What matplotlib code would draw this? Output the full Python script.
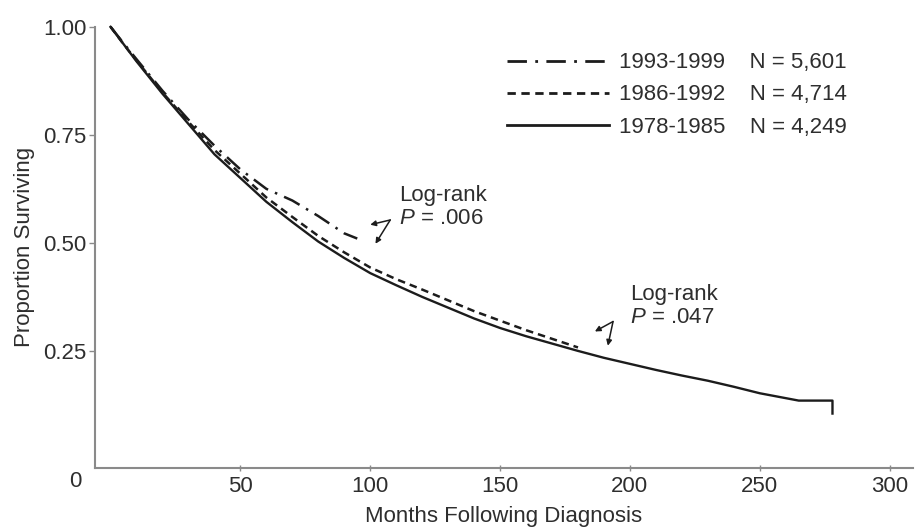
import matplotlib
matplotlib.use('Agg')
import matplotlib.pyplot as plt

plt.rcParams['font.family'] = ['Liberation Sans', 'DejaVu Sans']
plt.rcParams['mathtext.fontset'] = 'custom'
plt.rcParams['mathtext.rm'] = 'Liberation Sans'
plt.rcParams['mathtext.it'] = 'Liberation Sans:italic'

# Kaplan-Meier estimates (months, proportion surviving)
months_78 = [0, 5, 10, 20, 30, 40, 50, 60, 70, 80, 90, 100, 110, 120, 130,
             140, 150, 160, 170, 180, 190, 200, 210, 220, 230, 240, 250,
             265, 278, 278]
surv_78 = [1.0, 0.96, 0.92, 0.845, 0.775, 0.705, 0.65, 0.595, 0.548, 0.503,
           0.465, 0.43, 0.402, 0.375, 0.35, 0.325, 0.303, 0.284, 0.267,
           0.25, 0.234, 0.22, 0.206, 0.193, 0.181, 0.167, 0.152, 0.135,
           0.135, 0.105]

months_86 = [0, 5, 10, 20, 30, 40, 50, 60, 70, 80, 90, 100, 110, 120, 130,
             140, 150, 160, 170, 180]
surv_86 = [1.0, 0.96, 0.922, 0.848, 0.78, 0.715, 0.66, 0.605, 0.56, 0.516,
           0.478, 0.443, 0.416, 0.392, 0.367, 0.342, 0.32, 0.298, 0.278, 0.258]

months_93 = [0, 5, 10, 20, 30, 40, 50, 60, 70, 80, 90, 95]
surv_93 = [1.0, 0.962, 0.925, 0.852, 0.785, 0.725, 0.67, 0.625, 0.598,
           0.562, 0.522, 0.51]

labels = ['1993-1999    N = 5,601',
          '1986-1992    N = 4,714',
          '1978-1985    N = 4,249']

x_ticks = [50, 100, 150, 200, 250, 300]
y_ticks = [0.25, 0.50, 0.75, 1.00]

INK = '#1c1c1c'
TEXT = '#2e2e2e'
SPINE = '#8a8a8a'

fig = plt.figure(figsize=(9.16, 5.29), dpi=100)
ax = fig.add_axes([0.1037, 0.1153, 0.893, 0.834])

l93, = ax.plot(months_93, surv_93, color=INK, lw=1.8,
               linestyle=(0, (7, 3, 1, 3)), clip_on=False)
l86, = ax.plot(months_86, surv_86, color=INK, lw=1.8,
               linestyle=(0, (3, 2)), clip_on=False)
l78, = ax.plot(months_78, surv_78, color=INK, lw=1.7, clip_on=False)

ax.set_xlim(-6, 309)
ax.set_ylim(-0.021, 1.0)
ax.set_xticks(x_ticks)
ax.set_yticks(y_ticks)
ax.set_yticklabels([f'{v:.2f}' for v in y_ticks])

for side in ('top', 'right'):
    ax.spines[side].set_visible(False)
for side in ('left', 'bottom'):
    ax.spines[side].set_color(SPINE)
    ax.spines[side].set_linewidth(1.5)

ax.tick_params(axis='x', direction='inout', length=5, width=1, color=SPINE,
               labelsize=16, labelcolor=TEXT, pad=3)
ax.tick_params(axis='y', direction='out', length=4, width=1, color=SPINE,
               labelsize=16, labelcolor=TEXT, pad=2)

# origin label sits left of the axis start
ax.text(-13.5, -0.053, '0', ha='center', va='center', fontsize=16,
        color=TEXT, clip_on=False)

ax.set_xlabel('Months Following Diagnosis', fontsize=16, color=TEXT,
              labelpad=7)
ax.set_ylabel('Proportion Surviving', fontsize=16, color=TEXT, labelpad=6)

# ── log-rank annotations ───────────────────────────────────────────────
def _logrank(ax, tx, ty, pval, apex, targets):
    ax.text(tx, ty, 'Log-rank', fontsize=16, color=TEXT, va='baseline')
    ax.text(tx, ty - 0.053, f'$P$ = {pval}', fontsize=16, color=TEXT,
            va='baseline')
    for t in targets:
        ax.annotate('', xy=t, xytext=apex,
                    arrowprops=dict(arrowstyle='-|>', color=INK, lw=1.1,
                                    mutation_scale=8, shrinkA=0, shrinkB=0))


_logrank(ax, 111, 0.597, '.006', (107.7, 0.553),
         [(100, 0.542), (102, 0.498)])
_logrank(ax, 200, 0.368, '.047', (193.5, 0.318),
         [(186.5, 0.295), (191.5, 0.262)])

leg = ax.legend([l93, l86, l78], labels, loc='upper left',
                bbox_to_anchor=(0.541, 0.922), bbox_transform=fig.transFigure,
                frameon=False, fontsize=16, handlelength=4.6,
                handletextpad=0.45, labelspacing=0.5, borderpad=0)
for txt in leg.get_texts():
    txt.set_color(TEXT)
for h in leg.legend_handles:
    h.set_linewidth(2)

fig.savefig('out.png', dpi=100, facecolor='white')
